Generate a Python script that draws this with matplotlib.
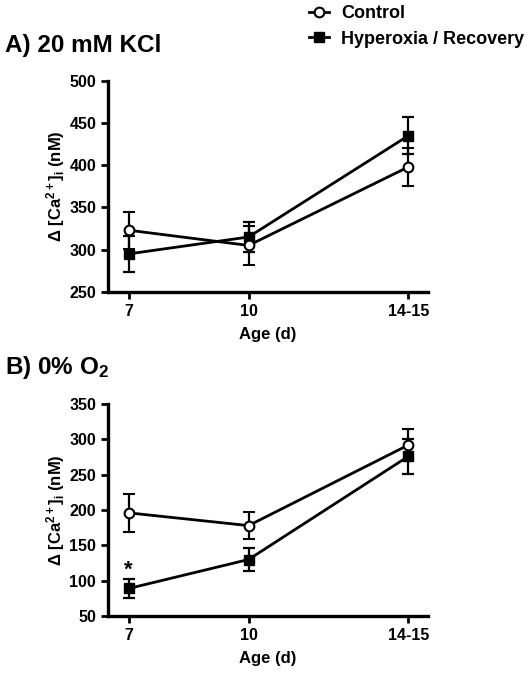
import matplotlib.pyplot as plt
from matplotlib.lines import Line2D

plt.rcParams['font.family'] = ['Liberation Sans', 'DejaVu Sans']
plt.rcParams['font.weight'] = 'bold'
plt.rcParams['axes.labelweight'] = 'bold'
plt.rcParams['mathtext.fontset'] = 'custom'
plt.rcParams['mathtext.rm'] = 'Liberation Sans:bold'
plt.rcParams['mathtext.it'] = 'Liberation Sans:bold'
plt.rcParams['mathtext.bf'] = 'Liberation Sans:bold'

# Age groups (14-15 d plotted at 14)
ages = [7, 10, 14]
age_labels = ['7', '10', '14-15']

# A) 20 mM KCl
kcl_control = [323, 305, 398]
kcl_control_err = [22, 23, 22]
kcl_hyper = [295, 315, 435]
kcl_hyper_err = [21, 18, 22]

# B) 0% O2
o2_control = [196, 178, 292]
o2_control_err = [27, 19, 23]
o2_hyper = [89, 130, 276]
o2_hyper_err = [13, 16, 25]

fig = plt.figure(figsize=(5.32, 6.74), dpi=100)
ax1 = fig.add_axes([0.203, 0.567, 0.602, 0.313])
ax2 = fig.add_axes([0.203, 0.086, 0.602, 0.3145])


def draw_panel(ax, ctrl, ctrl_err, hyp, hyp_err, ylim, yticks):
    ax.errorbar(ages, hyp, yerr=hyp_err, color='black', lw=2.0, marker='s',
                ms=7, mfc='black', mec='black', capsize=4, capthick=1.6,
                elinewidth=1.6, zorder=3)
    ax.errorbar(ages, ctrl, yerr=ctrl_err, color='black', lw=2.0, marker='o',
                ms=7, mfc='white', mec='black', mew=1.5, capsize=4,
                capthick=1.6, elinewidth=1.6, zorder=4)
    ax.set_xlim(6.48, 14.5)
    ax.set_ylim(*ylim)
    ax.set_yticks(yticks)
    ax.set_xticks(ages)
    ax.set_xticklabels(age_labels)
    for s in ['top', 'right']:
        ax.spines[s].set_visible(False)
    for s in ['left', 'bottom']:
        ax.spines[s].set_linewidth(2.4)
    ax.tick_params(width=2, length=5, labelsize=11.5)
    ax.set_xlabel('Age (d)', fontsize=12, labelpad=6)
    ax.set_ylabel(r'$\Delta$ [Ca$^{2+}$]$_{\rm i}$ (nM)', fontsize=12,
                  labelpad=2)


draw_panel(ax1, kcl_control, kcl_control_err, kcl_hyper, kcl_hyper_err,
           (250, 500), [250, 300, 350, 400, 450, 500])
draw_panel(ax2, o2_control, o2_control_err, o2_hyper, o2_hyper_err,
           (50, 350), [50, 100, 150, 200, 250, 300, 350])

ax2.text(7, 100, '*', ha='center', va='bottom', fontsize=16, fontweight='bold')

fig.text(0.01, 0.933, 'A) 20 mM KCl', fontsize=17.5, fontweight='bold', va='center')
fig.text(0.01, 0.455, r'B) 0% O$_2$', fontsize=17.5, fontweight='bold', va='center')

handles = [
    Line2D([], [], color='black', lw=2.0, marker='o', ms=7, mfc='white', mew=1.5),
    Line2D([], [], color='black', lw=2.0, marker='s', ms=7, mfc='black'),
]
fig.legend(handles, ['Control', 'Hyperoxia / Recovery'], loc='upper left',
           bbox_to_anchor=(0.55, 1.016), frameon=False, fontsize=13,
           handlelength=1.1, handletextpad=0.7, labelspacing=0.45)

fig.savefig('out.png', dpi=100)
